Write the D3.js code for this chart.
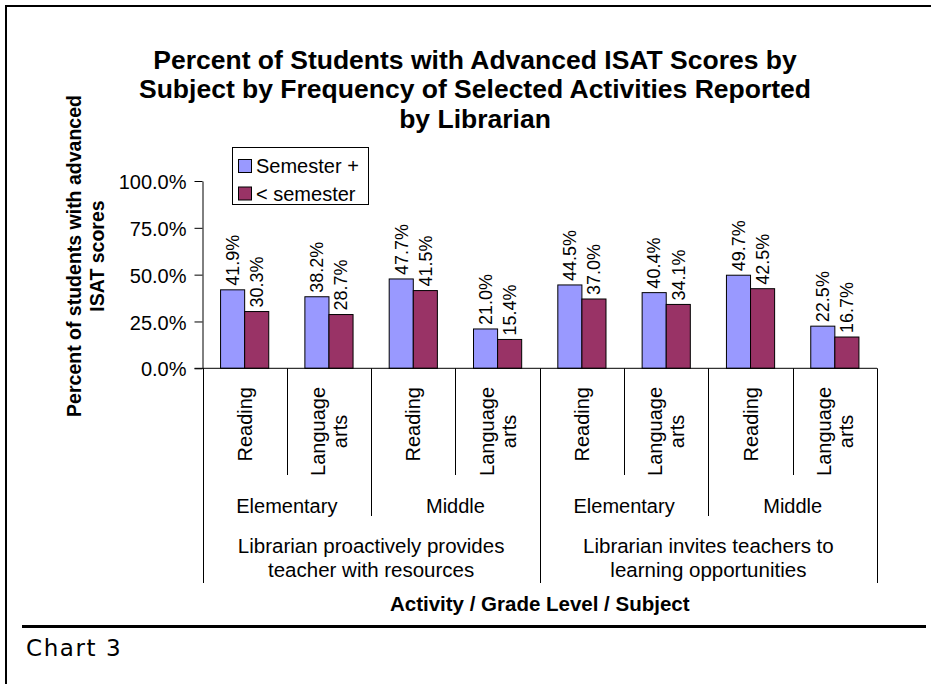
<!DOCTYPE html>
<html>
<head>
<meta charset="utf-8">
<script src="https://cdn.jsdelivr.net/npm/d3@7"></script>
<style>
  html, body { margin: 0; padding: 0; background: #fff; }
  svg { display: block; font-family: "Liberation Sans", Arial, sans-serif; }
</style>
</head>
<body>
<script>
// ---- data ----
const activities = ["Librarian proactively provides|teacher with resources", "Librarian invites teachers to|learning opportunities"];
const grades = ["Elementary", "Middle"];
const subjects = ["Reading", "Language|arts"];
const seriesNames = ["Semester +", "< semester"];
const semesterPlus = [41.9, 38.2, 47.7, 21.0, 44.5, 40.4, 49.7, 22.5];
const lessThanSemester = [30.3, 28.7, 41.5, 15.4, 37.0, 34.1, 42.5, 16.7];
const yTicks = [0, 25, 50, 75, 100];
const titleLines = ["Percent of Students with Advanced ISAT Scores by", "Subject by Frequency of Selected Activities Reported", "by Librarian"];
const yTitleLines = ["Percent of students with advanced", "ISAT scores"];
const xTitle = "Activity / Grade Level / Subject";
const colors = ["#9999FF", "#993366"];

// flat list of leaf categories
const leaves = [];
activities.forEach((a, ai) => grades.forEach((g, gi) => subjects.forEach((s, si) => {
  leaves.push({ activity: ai, grade: gi, subject: s, idx: leaves.length });
})));
const values = leaves.map((d, i) => [semesterPlus[i], lessThanSemester[i]]);

const W = 931, H = 684;
const svg = d3.select("body").append("svg").attr("width", W).attr("height", H);
svg.append("rect").attr("width", W).attr("height", H).attr("fill", "#fff");

// frame
svg.append("path").attr("d", "M6,684V6H931").attr("fill", "none").attr("stroke", "#000").attr("stroke-width", 2);
svg.append("line").attr("x1", 22).attr("x2", 926).attr("y1", 626.5).attr("y2", 626.5)
  .attr("stroke", "#000").attr("stroke-width", 3);
svg.append("text").attr("x", 26).attr("y", 656)
  .style("font-family", "'DejaVu Sans', Verdana, sans-serif").style("font-size", "23px")
  .style("letter-spacing", "1.6px").attr("fill", "#000").text("Chart 3");

// scales
const plot = { left: 202.5, right: 877, top: 181, bottom: 368.3 };
const x = d3.scaleBand().domain(leaves.map(d => d.idx)).range([plot.left, plot.right]).paddingInner(0).paddingOuter(0);
const xs = d3.scaleBand().domain([0, 1]).range([0, x.bandwidth()]).paddingInner(0).paddingOuter(0.75);
const y = d3.scaleLinear().domain([0, 100]).range([plot.bottom, plot.top]);

// title
const title = svg.append("text").attr("text-anchor", "middle").style("font-weight", "bold").style("font-size", "26.5px").attr("fill", "#000");
titleLines.forEach((t, i) => title.append("tspan").attr("x", 475).attr("y", 68.5 + i * 29.5).text(t));

// y axis
const yAxis = svg.append("g").attr("transform", `translate(${plot.left},0)`)
  .call(d3.axisLeft(y).tickValues(yTicks).tickSize(8).tickSizeOuter(0).tickPadding(8)
    .tickFormat(d => d3.format(".1f")(d) + "%"));
yAxis.select(".domain").attr("stroke", "#000");
yAxis.selectAll(".tick line").attr("stroke", "#000");
yAxis.selectAll(".tick text").style("font-size", "20px").style("font-family", "'Liberation Sans', Arial, sans-serif").attr("fill", "#000").attr("dy", "0.38em");

// y title
const yt = svg.append("text").attr("transform", `translate(0,256) rotate(-90)`)
  .attr("text-anchor", "middle").style("font-weight", "bold").style("font-size", "19.5px").attr("fill", "#000");
yTitleLines.forEach((t, i) => yt.append("tspan").attr("x", 0).attr("y", 81 + i * 23).text(t));

// bars
const groups = svg.append("g").selectAll("g").data(leaves).join("g")
  .attr("transform", d => `translate(${x(d.idx)},0)`);
groups.selectAll("rect").data(d => values[d.idx].map((v, s) => ({ v, s }))).join("rect")
  .attr("x", d => xs(d.s)).attr("width", xs.bandwidth())
  .attr("y", d => y(d.v)).attr("height", d => y(0) - y(d.v))
  .attr("fill", d => colors[d.s]).attr("stroke", "#000").attr("stroke-width", 1);

// value labels
groups.selectAll("text").data(d => values[d.idx].map((v, s) => ({ v, s }))).join("text")
  .attr("transform", d => `translate(${xs(d.s) + xs.bandwidth() / 2},${y(d.v) - 4}) rotate(-90)`)
  .attr("dy", "0.35em").style("font-size", "18px").attr("fill", "#000")
  .text(d => d3.format(".1f")(d.v) + "%");

// x axis line
svg.append("line").attr("x1", plot.left - 8).attr("x2", plot.right).attr("y1", plot.bottom).attr("y2", plot.bottom)
  .attr("stroke", "#000");

// hierarchical separators
const nSub = subjects.length, nGrade = grades.length;
for (let i = 0; i <= leaves.length; i++) {
  const xx = i < leaves.length ? x(i) : plot.right;
  let yEnd = 475;
  if (i % (nSub * nGrade) === 0) yEnd = 583;
  else if (i % nSub === 0) yEnd = 516;
  svg.append("line").attr("x1", Math.round(xx) + 0.5).attr("x2", Math.round(xx) + 0.5)
    .attr("y1", plot.bottom).attr("y2", yEnd).attr("stroke", "#000");
}

// subject labels (rotated, top-aligned under the axis)
leaves.forEach(d => {
  const cx = x(d.idx) + x.bandwidth() / 2;
  const lines = d.subject.split("|");
  const g = svg.append("g").attr("transform", `translate(${cx},387) rotate(-90)`);
  const ts = lines.map((l, k) => g.append("text").attr("text-anchor", "middle")
    .attr("y", 7 + (k - (lines.length - 1) / 2) * 22).style("font-size", "20px").attr("fill", "#000").text(l));
  const maxLen = d3.max(ts, t => t.node().getComputedTextLength());
  ts.forEach(t => t.attr("x", -maxLen / 2));
});

// grade labels
activities.forEach((a, ai) => grades.forEach((g, gi) => {
  const i0 = (ai * nGrade + gi) * nSub;
  const cx = (x(i0) + x(i0 + nSub - 1) + x.bandwidth()) / 2;
  svg.append("text").attr("x", cx).attr("y", 513).attr("text-anchor", "middle")
    .style("font-size", "20px").attr("fill", "#000").text(g);
}));

// activity labels
activities.forEach((a, ai) => {
  const i0 = ai * nGrade * nSub;
  const cx = (x(i0) + x(i0 + nGrade * nSub - 1) + x.bandwidth()) / 2;
  const t = svg.append("text").attr("text-anchor", "middle").style("font-size", "20.5px").attr("fill", "#000");
  a.split("|").forEach((l, k) => t.append("tspan").attr("x", cx).attr("y", 553 + k * 24).text(l));
});

// x title
svg.append("text").attr("x", (plot.left + plot.right) / 2).attr("y", 611).attr("text-anchor", "middle")
  .style("font-weight", "bold").style("font-size", "20.5px").attr("fill", "#000").text(xTitle);

// legend
const lg = svg.append("g");
lg.append("rect").attr("x", 232.5).attr("y", 147.5).attr("width", 136).attr("height", 57)
  .attr("fill", "#fff").attr("stroke", "#000");
seriesNames.forEach((n, i) => {
  lg.append("rect").attr("x", 238.5).attr("y", 159.5 + i * 27.5).attr("width", 13).attr("height", 13)
    .attr("fill", colors[i]).attr("stroke", "#000");
  lg.append("text").attr("x", 256).attr("y", 173.3 + i * 27.5).style("font-size", "20px").attr("fill", "#000").text(n);
});
</script>
</body>
</html>
